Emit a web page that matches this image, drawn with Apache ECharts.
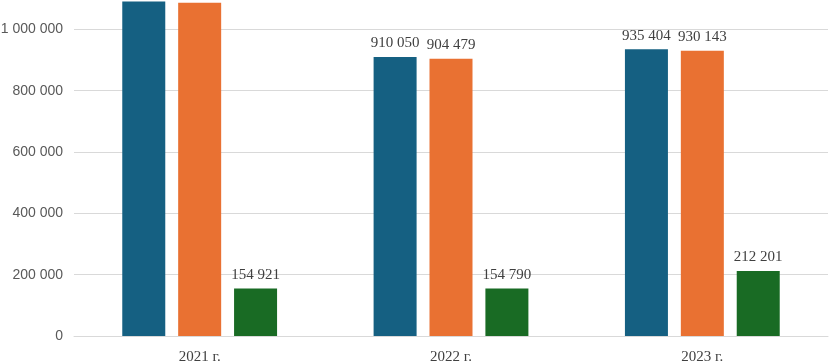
<!DOCTYPE html>
<html><head><meta charset="utf-8">
<script src="https://cdn.jsdelivr.net/npm/echarts@6/dist/echarts.min.js"></script>
<style>html,body{margin:0;padding:0;background:#fff;overflow:hidden;width:830px;height:361px}#c{width:830px;height:393px;position:absolute;left:0;top:-32px}</style>
</head><body><div id="c"></div>
<script>
const categories = ['2021 г.', '2022 г.', '2023 г.'];
const seriesA = [1091000, 910050, 935404];
const seriesB = [1087000, 904479, 930143];
const seriesC = [154921, 154790, 212201];
const colors = ['#156082', '#E97132', '#196B24'];

function fmt(v) { return String(Math.round(v)).replace(/\B(?=(\d{3})+(?!\d))/g, ' '); }

const chart = echarts.init(document.getElementById('c'), null, {renderer: 'canvas'});
const label = {
  show: true, position: 'top', distance: 6,
  fontFamily: '"Liberation Serif", serif', fontSize: 15, color: '#404040',
  formatter: p => fmt(p.value)
};
chart.setOption({
  animation: false,
  grid: {left: 74, right: 2, top: 0, bottom: 25, containLabel: false, outerBoundsMode: 'none'},
  xAxis: {
    type: 'category', data: categories,
    axisLine: {show: true, lineStyle: {color: '#d9d9d9', width: 1}},
    axisTick: {show: false},
    axisLabel: {fontFamily: '"Liberation Serif", serif', fontSize: 15, color: '#404040', margin: 14}
  },
  yAxis: {
    type: 'value', min: 0, max: 1200000, interval: 200000,
    axisLine: {show: false}, axisTick: {show: false},
    splitLine: {lineStyle: {color: '#d9d9d9', width: 1}},
    axisLabel: {fontFamily: '"Liberation Sans", sans-serif', fontSize: 14, color: '#595959', margin: 11, formatter: v => fmt(v)}
  },
  series: [
    {type: 'bar', data: seriesA, barWidth: 43, barGap: '30%', itemStyle: {color: colors[0]}, label},
    {type: 'bar', data: seriesB, barWidth: 43, barGap: '30%', itemStyle: {color: colors[1]}, label},
    {type: 'bar', data: seriesC, barWidth: 43, barGap: '30%', itemStyle: {color: colors[2]}, label}
  ]
});
</script></body></html>
